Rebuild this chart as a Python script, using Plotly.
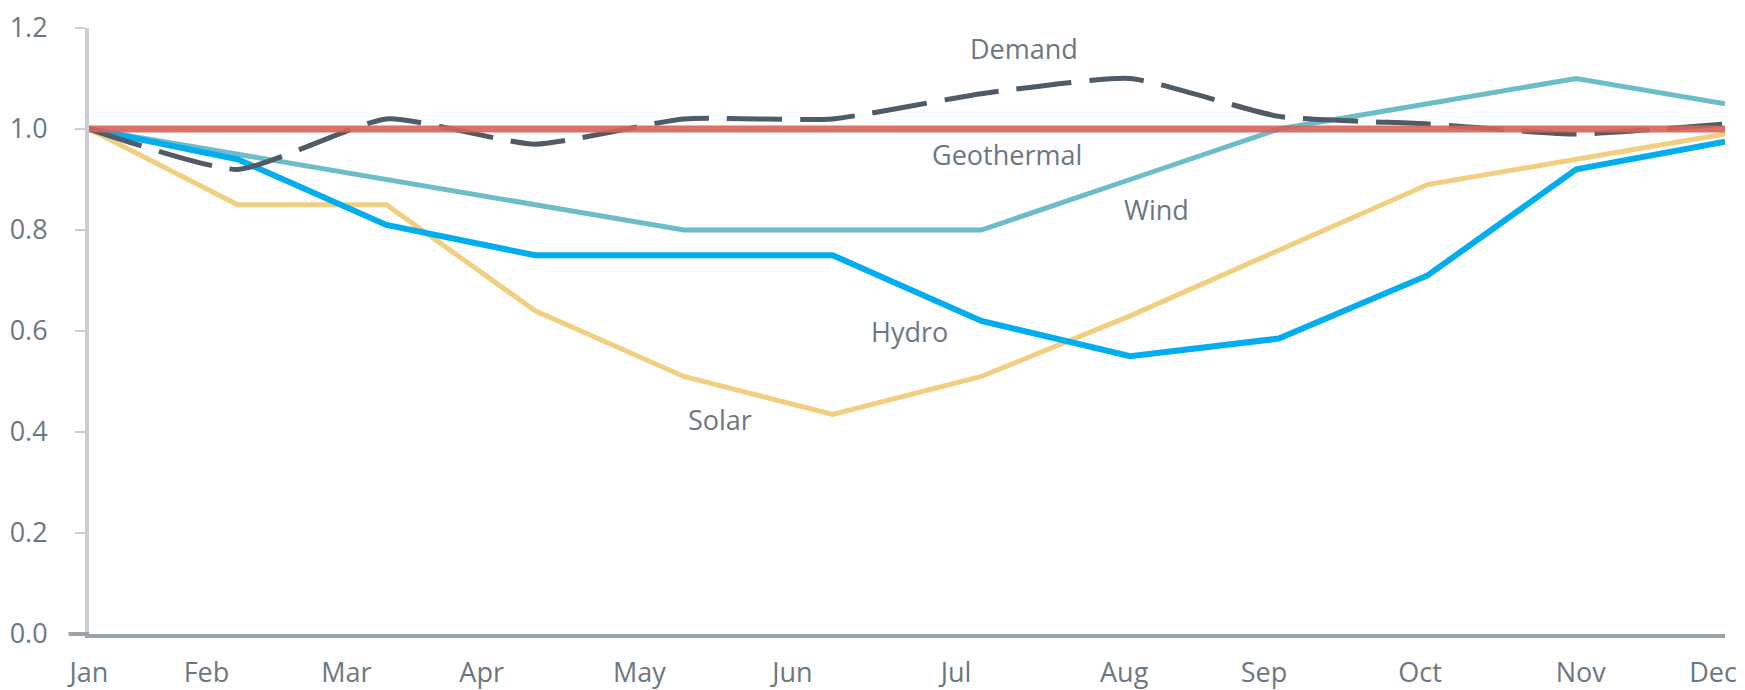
import plotly.graph_objects as go

# seasonal profiles (relative to January = 1.0)
months = ["Jan", "Feb", "Mar", "Apr", "May", "Jun", "Jul", "Aug", "Sep", "Oct", "Nov", "Dec"]
demand = [1.00, 0.92, 1.02, 0.97, 1.02, 1.02, 1.07, 1.10, 1.025, 1.01, 0.99, 1.01]
geothermal = [1.00, 1.00, 1.00, 1.00, 1.00, 1.00, 1.00, 1.00, 1.00, 1.00, 1.00, 1.00]
wind = [1.00, 0.95, 0.90, 0.85, 0.80, 0.80, 0.80, 0.90, 1.00, 1.05, 1.10, 1.05]
hydro = [1.00, 0.94, 0.81, 0.75, 0.75, 0.75, 0.62, 0.55, 0.585, 0.71, 0.92, 0.975]
solar = [1.00, 0.85, 0.85, 0.64, 0.51, 0.435, 0.51, 0.63, 0.76, 0.89, 0.94, 0.99]
y_ticks = [0.0, 0.2, 0.4, 0.6, 0.8, 1.0, 1.2]

# month labels in the source sit a little left of the data points
label_shift = [0.0, -0.21, -0.27, -0.36, -0.30, -0.27, -0.17, -0.04, -0.10, -0.05, 0.03, -0.08]

FONT = "Open Sans"
TXT = "#6c7781"

x = list(range(len(months)))

fig = go.Figure()
fig.add_trace(go.Scatter(x=x, y=solar, mode="lines", name="Solar",
                         line=dict(color="#f1cf80", width=5)))
fig.add_trace(go.Scatter(x=x, y=wind, mode="lines", name="Wind",
                         line=dict(color="#6dbcc9", width=5)))
fig.add_trace(go.Scatter(x=x, y=hydro, mode="lines", name="Hydro",
                         line=dict(color="#00adef", width=6)))
fig.add_trace(go.Scatter(x=x, y=demand, mode="lines", name="Demand",
                         line=dict(color="#4f5b66", width=5, dash="55px,18px",
                                   shape="spline", smoothing=0.5)))
fig.add_trace(go.Scatter(x=x, y=geothermal, mode="lines", name="Geothermal",
                         opacity=0.9, line=dict(color="#d9625a", width=7)))

# inline series labels
labels = [
    ("Demand", 6.29, 1.16),
    ("Geothermal", 6.17, 0.95),
    ("Wind", 7.18, 0.84),
    ("Hydro", 5.52, 0.60),
    ("Solar", 4.24, 0.424),
]
for txt, lx, ly in labels:
    fig.add_annotation(x=lx, y=ly, text=txt, showarrow=False,
                       font=dict(family=FONT, size=27, color=TXT))

# small stub of the x axis line left of the y axis
fig.add_shape(type="line", xref="paper", yref="paper", x0=-0.0125, x1=0, y0=0, y1=0,
              line=dict(color="#9aa3a7", width=4))

# page body adds an 8px margin, so the figure is 8px smaller than the window
fig.update_layout(
    width=1737, height=682,
    margin=dict(l=81, r=20, t=20, b=56, autoexpand=False),
    paper_bgcolor="white", plot_bgcolor="white",
    showlegend=False,
    font=dict(family=FONT, size=27, color=TXT),
    xaxis=dict(range=[0, 11], showgrid=False, zeroline=False, automargin=False,
               tickvals=[i + s for i, s in enumerate(label_shift)], ticktext=months,
               ticks="", showline=True, linecolor="#9aa3a7", linewidth=4,
               ticklabelstandoff=12),
    yaxis=dict(range=[0, 1.2], showgrid=False, zeroline=False, automargin=False,
               tickvals=y_ticks, tickformat=".1f",
               ticks="outside", ticklen=10, tickwidth=2, tickcolor="#c9ced2",
               showline=True, linecolor="#c9ced2", linewidth=4,
               ticklabelstandoff=22),
)

fig.write_html("out.html")
